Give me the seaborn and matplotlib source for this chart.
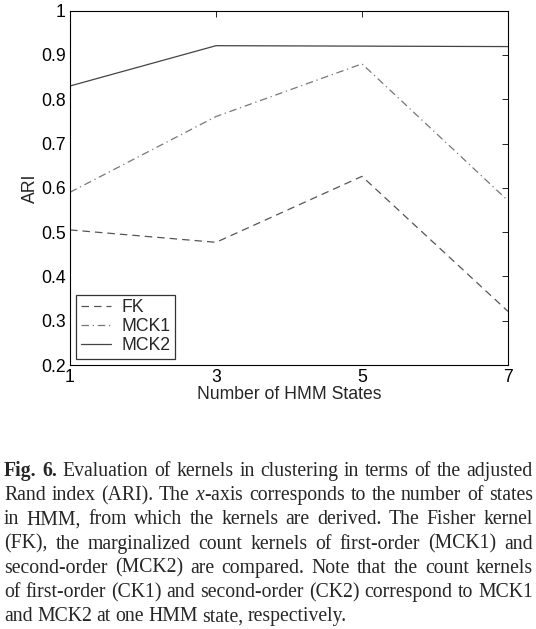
import matplotlib
matplotlib.use("Agg")
import matplotlib.pyplot as plt
import seaborn as sns
import pandas as pd

states = [1, 3, 5, 7]
fk = [0.505, 0.477, 0.626, 0.321]
mck1 = [0.59, 0.761, 0.88, 0.571]
mck2 = [0.830, 0.921, 0.920, 0.919]
kernels = ["FK", "MCK1", "MCK2"]
yticks = [0.2, 0.3, 0.4, 0.5, 0.6, 0.7, 0.8, 0.9, 1.0]
ytick_labels = ["0.2", "0.3", "0.4", "0.5", "0.6", "0.7", "0.8", "0.9", "1"]

caption_lines = [
    [("Fig.", "bold"), ("6.", "bold"), ("Evaluation", ""), ("of", ""), ("kernels", ""), ("in", ""), ("clustering", ""), ("in", ""), ("terms", ""), ("of", ""), ("the", ""), ("adjusted", "")],
    [("Rand", ""), ("index", ""), ("(ARI).", ""), ("The", ""), ("$x$-axis", ""), ("corresponds", ""), ("to", ""), ("the", ""), ("number", ""), ("of", ""), ("states", "")],
    [("in", ""), ("HMM,", ""), ("from", ""), ("which", ""), ("the", ""), ("kernels", ""), ("are", ""), ("derived.", ""), ("The", ""), ("Fisher", ""), ("kernel", "")],
    [("(FK),", ""), ("the", ""), ("marginalized", ""), ("count", ""), ("kernels", ""), ("of", ""), ("first-order", ""), ("(MCK1)", ""), ("and", "")],
    [("second-order", ""), ("(MCK2)", ""), ("are", ""), ("compared.", ""), ("Note", ""), ("that", ""), ("the", ""), ("count", ""), ("kernels", "")],
    [("of", ""), ("first-order", ""), ("(CK1)", ""), ("and", ""), ("second-order", ""), ("(CK2)", ""), ("correspond", ""), ("to", ""), ("MCK1", "")],
    [("and", ""), ("MCK2", ""), ("at", ""), ("one", ""), ("HMM", ""), ("state,", ""), ("respectively.", "")],
]

sns.set_style("white")
plt.rcParams["font.family"] = ["Liberation Sans", "DejaVu Sans"]
plt.rcParams["mathtext.fontset"] = "custom"
plt.rcParams["mathtext.it"] = "Liberation Serif:italic"
plt.rcParams["mathtext.rm"] = "Liberation Serif"

df = pd.DataFrame({
    "states": states * 3,
    "ari": fk + mck1 + mck2,
    "kernel": [kernels[0]] * 4 + [kernels[1]] * 4 + [kernels[2]] * 4,
})

fig = plt.figure(figsize=(5.36, 6.29), dpi=100)
ax = fig.add_axes([70 / 536, 1 - 365 / 629, (508 - 70) / 536, (365 - 10.7) / 629])

palette = {"FK": "#555555", "MCK1": "#777777", "MCK2": "#444444"}
dashes = {"FK": (6, 4), "MCK1": (6, 3, 1, 3), "MCK2": ""}
sns.lineplot(data=df, x="states", y="ari", hue="kernel", style="kernel",
             palette=palette, dashes=dashes, linewidth=0.9, ax=ax)

ax.set_xlim(1, 7)
ax.set_ylim(0.2, 1.0)
ax.set_xticks(states)
ax.set_xticklabels([str(s) for s in states])
ax.set_yticks(yticks)
ax.set_yticklabels(ytick_labels)
ax.tick_params(direction="in", top=True, right=True, length=4, width=0.6,
               labelsize=12.7, colors="#000000", pad=3)
for s in ax.spines.values():
    s.set_color("#000000")
    s.set_linewidth(0.8)
ax.set_xlabel("Number of HMM States", fontsize=12.7, labelpad=0)
ax.set_ylabel("ARI", fontsize=12.7)
ax.yaxis.set_label_coords(-0.07, 0.5)

leg = ax.legend(loc="lower left", fontsize=12.7, frameon=True, fancybox=False,
                borderaxespad=0.35, handlelength=1.7, labelspacing=0.12,
                borderpad=0.25, handletextpad=0.6)
leg.get_frame().set_edgecolor("#000000")
leg.get_frame().set_linewidth(0.9)

# justified caption
fig.canvas.draw()
renderer = fig.canvas.get_renderer()
left_px, right_px = 4, 533
y0 = 476
dy = 24.2
fs = 14.2
W, H = fig.bbox.width, fig.bbox.height
for i, line in enumerate(caption_lines):
    ypx = y0 + i * dy
    texts = []
    widths = []
    for word, style in line:
        t = fig.text(0, 1 - ypx / H, word, fontsize=fs,
                     family=["Liberation Serif", "DejaVu Serif"],
                     fontweight="bold" if style == "bold" else "normal",
                     va="baseline", ha="left")
        texts.append(t)
        widths.append(t.get_window_extent(renderer).width)
    total = sum(widths)
    n = len(texts)
    if i < len(caption_lines) - 1 and n > 1:
        gap = (right_px - left_px - total) / (n - 1)
    else:
        gap = 4.5
    x = left_px
    for t, w in zip(texts, widths):
        t.set_x(x / W)
        x += w + gap

fig.savefig("out.png", dpi=100)
